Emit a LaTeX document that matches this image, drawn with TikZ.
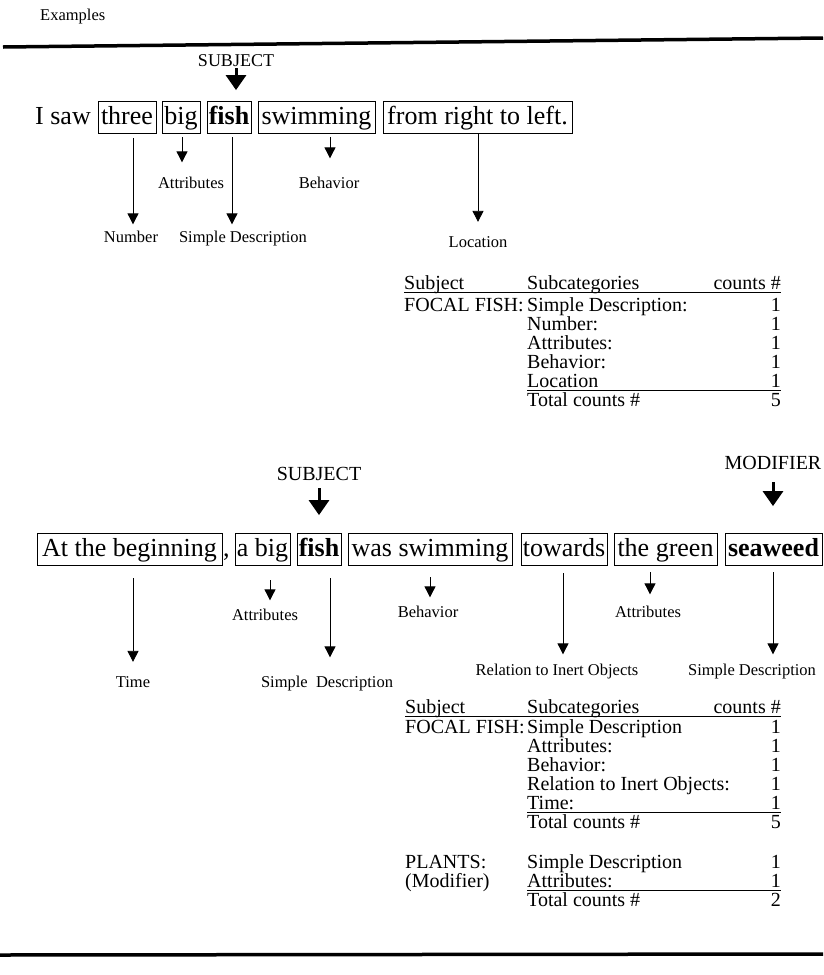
\documentclass[tikz,border=0pt]{standalone}
\usepackage{fontspec}
\setmainfont{Liberation Serif}
\usetikzlibrary{arrows.meta,calc}
\begin{document}
\begin{tikzpicture}[x=1pt,y=-1pt,
  sent/.style={font=\fontsize{26}{30}\selectfont},
  wbox/.style={draw, line width=0.8pt, sent, inner xsep=0pt, inner ysep=3.5pt, text height=19pt, text depth=6pt, anchor=base},
  lbl/.style={font=\fontsize{16.5}{19}\selectfont, inner sep=1pt, anchor=base},
  tab/.style={font=\fontsize{20}{24}\selectfont, inner sep=0pt},
  tabl/.style={tab, anchor=base west},
  tabr/.style={tab, anchor=base east},
  arr/.style={-{Triangle[length=11pt,width=11pt]}, line width=0.8pt},
  subj/.style={-{Triangle[length=15pt,width=20pt]}, line width=3pt},
  tag/.style={inner sep=1pt, anchor=base},
  rule/.style={line width=3.5pt},
  uline/.style={line width=0.8pt},
]
\useasboundingbox (0,0) rectangle (823,975);

% header
\node[lbl, anchor=base west, inner sep=0pt] (examples) at (40,20) {Examples};
\draw[rule] (3,47) -- (823,38);

% ---------- sentence 1 ----------
\node[tag, font=\fontsize{18}{21}\selectfont] (subj1) at (236,66) {SUBJECT};
\node[sent, anchor=base west, inner sep=0pt] (isaw) at (35,124) {I saw};
\node[wbox, minimum width=58pt] (three) at (127,124) {three};
\node[wbox, minimum width=38pt] (big1) at (181,124) {big};
\node[wbox, minimum width=44pt] (fish1) at (229,124) {\textbf{fish}};
\node[wbox, minimum width=117pt] (swim1) at (316.5,124) {swimming};
\node[wbox, minimum width=189pt] (from1) at (477.5,124) {from right to left.};

\node[lbl] (num) at (131,242) {Number};
\node[lbl] (attr1) at (191,188) {Attributes};
\node[lbl] (sd1) at (243,242) {Simple Description};
\node[lbl] (beh1) at (329,188) {Behavior};
\node[lbl] (loc1) at (478,247) {Location};

\draw[subj, shorten <=1pt, shorten >=11pt] (subj1.south) -- (subj1.south |- fish1.north);
\draw[arr, shorten <=4.5pt, shorten >=5pt] ([xshift=6pt]three.south) -- ([xshift=6pt]three.south |- num.north);
\draw[arr, shorten <=3.5pt, shorten >=13pt] ([xshift=1pt]big1.south) -- ([xshift=1pt]big1.south |- attr1.north);
\draw[arr, shorten <=3.5pt, shorten >=5pt] ([xshift=3pt]fish1.south) -- ([xshift=3pt]fish1.south |- sd1.north);
\draw[arr, shorten <=3pt, shorten >=17pt] ([xshift=13.5pt]swim1.south) -- ([xshift=13.5pt]swim1.south |- beh1.north);
\draw[arr, shorten <=0pt, shorten >=13pt] ([xshift=0.5pt]from1.south) -- ([xshift=0.5pt]from1.south |- loc1.north);

% ---------- table 1 ----------
\node[tabl] (t1h1) at (404,289) {Subject};
\node[tabl] (t1h2) at (527,289) {Subcategories};
\node[tabr] (t1h3) at (781,289) {counts \#};
\draw[uline] ([yshift=-3pt]t1h1.base west) -- ([yshift=-3pt]t1h3.base east);
\node[tabl] (t1s) at (404,311) {FOCAL FISH:};
\node[tabl] (t1r1) at (527,311) {Simple Description:};
\node[tabr] (t1c1) at (781,311) {1};
\node[tabl] (t1r2) at (527,330) {Number:};
\node[tabr] (t1c2) at (781,330) {1};
\node[tabl] (t1r3) at (527,349) {Attributes:};
\node[tabr] (t1c3) at (781,349) {1};
\node[tabl] (t1r4) at (527,368) {Behavior:};
\node[tabr] (t1c4) at (781,368) {1};
\node[tabl] (t1r5) at (527,387) {Location};
\node[tabr] (t1c5) at (781,387) {1};
\draw[uline] ([yshift=-3pt]t1r5.base west) -- ([yshift=-3pt]t1c5.base east);
\node[tabl] (t1r6) at (527,406) {Total counts \#};
\node[tabr] (t1c6) at (781,406) {5};

% ---------- sentence 2 ----------
\node[tag, font=\fontsize{20}{24}\selectfont] (subj2) at (319,480) {SUBJECT};
\node[tag, font=\fontsize{20}{24}\selectfont] (modif) at (773,469) {MODIFIER};

\node[wbox, minimum width=185pt] (atb) at (129.5,556) {At the beginning};
\node[sent, anchor=base west, inner sep=0pt] (comma) at (223,556) {,};
\node[wbox, minimum width=55pt] (abig) at (262.5,556) {a big};
\node[wbox, minimum width=44pt] (fish2) at (319,556) {\textbf{fish}};
\node[wbox, minimum width=164pt] (swim2) at (430,556) {was swimming};
\node[wbox, minimum width=86pt] (tow) at (564,556) {towards};
\node[wbox, minimum width=103pt] (green) at (665.5,556) {the green};
\node[wbox, minimum width=97pt] (sea) at (773.5,556) {\textbf{seaweed}};

\node[lbl] (time) at (133,687) {Time};
\node[lbl] (attr2) at (265,620) {Attributes};
\node[lbl] (sd2) at (327,687) {Simple\enspace Description};
\node[lbl] (beh2) at (428,617) {Behavior};
\node[lbl] (rel) at (557,675) {Relation to Inert Objects};
\node[lbl] (attr3) at (648,617) {Attributes};
\node[lbl] (sd3) at (752,675) {Simple Description};

\draw[subj, shorten <=7pt, shorten >=18pt] (subj2.south) -- (subj2.south |- fish2.north);
\draw[subj, shorten <=12pt, shorten >=27pt] (modif.south) -- (modif.south |- sea.north);
\draw[arr, shorten <=12.5pt, shorten >=13pt] ([xshift=3.5pt]atb.south) -- ([xshift=3.5pt]atb.south |- time.north);
\draw[arr, shorten <=14.5pt, shorten >=7pt] ([xshift=7.5pt]abig.south) -- ([xshift=7.5pt]abig.south |- attr2.north);
\draw[arr, shorten <=12.5pt, shorten >=17pt] ([xshift=11pt]fish2.south) -- ([xshift=11pt]fish2.south |- sd2.north);
\draw[arr, shorten <=11.5pt, shorten >=7pt] (swim2.south) -- (swim2.south |- beh2.north);
\draw[arr, shorten <=7.5pt, shorten >=8pt] ([xshift=-1pt]tow.south) -- ([xshift=-1pt]tow.south |- rel.north);
\draw[arr, shorten <=6.5pt, shorten >=10pt] ([xshift=-15.5pt]green.south) -- ([xshift=-15.5pt]green.south |- attr3.north);
\draw[arr, shorten <=6.5pt, shorten >=8pt] ([xshift=-0.5pt]sea.south) -- ([xshift=-0.5pt]sea.south |- sd3.north);

% ---------- table 2 ----------
\node[tabl] (t2h1) at (405,713) {Subject};
\node[tabl] (t2h2) at (527,713) {Subcategories};
\node[tabr] (t2h3) at (781,713) {counts \#};
\draw[uline] ([yshift=-3pt]t2h1.base west) -- ([yshift=-3pt]t2h3.base east);
\node[tabl] (t2s) at (405,733) {FOCAL FISH:};
\node[tabl] (t2r1) at (527,733) {Simple Description};
\node[tabr] (t2c1) at (781,733) {1};
\node[tabl] (t2r2) at (527,752) {Attributes:};
\node[tabr] (t2c2) at (781,752) {1};
\node[tabl] (t2r3) at (527,771) {Behavior:};
\node[tabr] (t2c3) at (781,771) {1};
\node[tabl] (t2r4) at (527,790) {Relation to Inert Objects:};
\node[tabr] (t2c4) at (781,790) {1};
\node[tabl] (t2r5) at (527,809) {Time:};
\node[tabr] (t2c5) at (781,809) {1};
\draw[uline] ([yshift=-3pt]t2r5.base west) -- ([yshift=-3pt]t2c5.base east);
\node[tabl] (t2r6) at (527,828) {Total counts \#};
\node[tabr] (t2c6) at (781,828) {5};

\node[tabl] (pl) at (405,868) {PLANTS:};
\node[tabl] (t3r1) at (527,868) {Simple Description};
\node[tabr] (t3c1) at (781,868) {1};
\node[tabl] (pm) at (405,887) {(Modifier)};
\node[tabl] (t3r2) at (527,887) {Attributes:};
\node[tabr] (t3c2) at (781,887) {1};
\draw[uline] ([yshift=-3pt]t3r2.base west) -- ([yshift=-3pt]t3c2.base east);
\node[tabl] (t3r3) at (527,906) {Total counts \#};
\node[tabr] (t3c3) at (781,906) {2};

\draw[rule] (0,955) -- (823,954);
\end{tikzpicture}
\end{document}
